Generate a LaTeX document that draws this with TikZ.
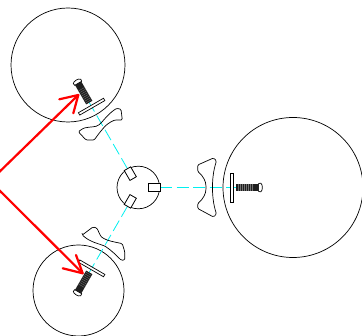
\documentclass[tikz,border=0pt]{standalone}
\definecolor{axiscyan}{RGB}{0,240,240}
\tikzset{
  wheel/.style={draw=black,line width=0.7pt,fill=none},
  axisline/.style={draw=axiscyan,line width=0.8pt,dash pattern=on 12pt off 4.5pt},
  platebox/.style={draw=black,line width=0.7pt,fill=white},
  slotbox/.style={draw=black,line width=0.8pt,fill=white},
  wedge/.style={draw=black,line width=0.7pt,fill=none},
  redarrow/.style={draw=red,line width=2.2pt,line cap=round,line join=round},
  assembly/.pic={
    \draw[axisline] (21.7,0) -- (98,0);
    \draw[slotbox] (10.3,-3.7) rectangle (21.7,3.7);
    \draw[platebox] (92,-14.5) rectangle (94.7,14.5);
    \fill[black!88] (98,-3.6) rectangle (120.3,3.6);
    \foreach \k in {99.5,101.5,...,113.5} \draw[black!55,line width=0.35pt] (\k,-3.6) -- (\k,3.6);
    \draw[black,line width=0.7pt,fill=white] (120.3,-4) -- (122.5,-4.3) .. controls (124.6,-3) and (124.6,3) .. (122.5,4.3) -- (120.3,4) -- cycle;
  }
}
\begin{document}
\begin{tikzpicture}[x=1pt,y=-1pt]
  \useasboundingbox (0,0) rectangle (362,336);
  \clip (0,0) rectangle (362,336);
  \fill[white] (0,0) rectangle (362,336);
  \coordinate (hub) at (138.3,187.5);
  \coordinate (top) at (68,65);
  \coordinate (right) at (293,187.5);
  \coordinate (bottom) at (78.5,290.5);
  \draw[wheel] (top) circle[radius=57];
  \draw[wheel] (right) circle[radius=70];
  \draw[wheel] (bottom) circle[radius=45.5];
  \draw[wheel] (hub) circle[radius=21.3];
  \pic[shift={(hub)}] {assembly};
  \pic[shift={(hub)},rotate=120] {assembly};
  \pic[shift={(hub)},rotate=-120] {assembly};
  % right wedge
  \draw[wedge,rounded corners=1.2pt] (197.7,165) -- (197.7,171.5) .. controls (203,176) and (206,181) .. (206,187.5) .. controls (206,194) and (203,199) .. (197.7,203.5) -- (197.7,208.5) -- (213.5,217) -- (216.5,214) .. controls (213.5,205) and (212.5,196) .. (212.5,187.5) .. controls (212.5,179) and (213.5,170) .. (216.5,161) -- (213.5,158) -- cycle;
  % top wedge
  \draw[wedge,rounded corners=1.2pt] (78.3,131.7) -- (83.3,128.3) .. controls (90,126.5) and (96,127.5) .. (100,124) .. controls (104,120) and (108,114) .. (116.7,108.3) -- (121,109.3) -- (122.3,120) -- (115,120) .. controls (110,122) and (106,125) .. (103.3,128.3) .. controls (100,132) and (97,136) .. (94.3,140) -- (86,140) -- cycle;
  % bottom wedge
  \draw[wedge,rounded corners=1.2pt] (82.3,235) -- (93,227) -- (96.8,228) .. controls (99,232) and (100,236) .. (103,238) .. controls (108,241) and (115,242) .. (122.3,243.7) -- (124.8,252) -- (124.7,260) -- (121.3,260.3) .. controls (117,256) and (111,250) .. (104.7,246) .. controls (98,243.5) and (90,242) .. cycle;
  % red arrows
  \coordinate (srcA) at (-10,181);
  \coordinate (tipA) at (78.3,95);
  \coordinate (barbA1) at (59.3,99.3);
  \coordinate (barbA2) at (73.3,113.3);
  \coordinate (tipB) at (82.7,273.3);
  \coordinate (barbB1) at (62.7,268.3);
  \coordinate (barbB2) at (76,255);
  \draw[redarrow] (srcA) -- (tipA);
  \draw[redarrow] (barbA1) -- (tipA) -- (barbA2);
  \draw[redarrow] (srcA) -- (tipB);
  \draw[redarrow] (barbB1) -- (tipB) -- (barbB2);
\end{tikzpicture}
\end{document}
